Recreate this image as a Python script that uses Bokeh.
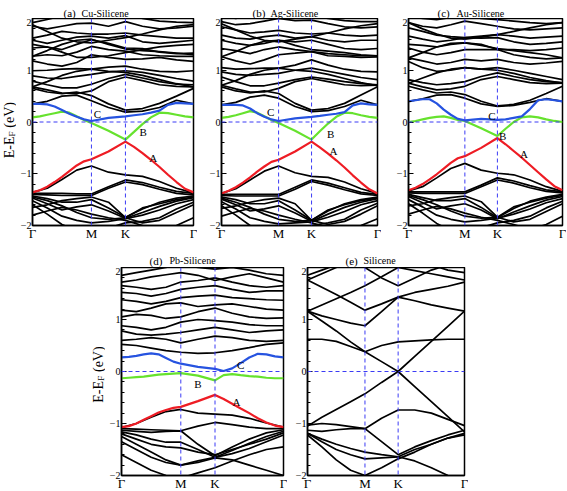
import numpy as np
from bokeh.plotting import figure
from bokeh.layouts import row, column
from bokeh.models import FixedTicker, SingleIntervalTicker, Span, Label, Spacer
from bokeh.core.properties import value
from bokeh.embed import file_html
from bokeh.resources import INLINE

# high-symmetry path  Γ - M - K - Γ
K_TICKS = [0.0, 1.0, 1.577, 2.732]
K_LABELS = ["Γ", "M", "K", "Γ"]
# sampling points for black bands (Γ, ¼, ½, ¾, M, mid, K, ¼, ½, ¾, Γ)
KB = [0.0, 0.25, 0.5, 0.75, 1.0, 1.289, 1.577, 1.866, 2.155, 2.443, 2.732]
# sampling points for coloured bands
KC = [0.0, 0.125, 0.25, 0.375, 0.5, 0.625, 0.75, 0.875, 1.0, 1.289, 1.577,
      1.722, 1.866, 2.010, 2.155, 2.299, 2.443, 2.588, 2.732]

# ---------------- (a) Cu-Silicene ----------------
a_black = [
    [0.35, 0.40, 0.50, 0.52, 0.41, 0.28, 0.19, 0.21, 0.28, 0.42, 0.35],
    [0.65, 0.58, 0.55, 0.58, 0.51, 0.35, 0.23, 0.26, 0.36, 0.50, 0.65],
    [0.68, 0.62, 0.56, 0.55, 0.60, 0.78, 0.87, 0.80, 0.72, 0.69, 0.68],
    [0.79, 0.72, 0.66, 0.66, 0.73, 0.84, 0.92, 0.85, 0.78, 0.73, 0.72],
    [0.68, 0.78, 0.90, 0.98, 1.02, 0.98, 0.96, 0.90, 0.82, 0.74, 0.68],
    [0.89, 0.85, 0.84, 0.88, 0.92, 0.97, 0.99, 0.96, 0.90, 0.84, 0.79],
    [0.99, 1.00, 1.02, 1.03, 1.02, 1.06, 1.08, 1.02, 0.98, 0.97, 0.99],
    [1.18, 1.12, 1.08, 1.15, 1.30, 1.25, 1.21, 1.22, 1.25, 1.20, 1.17],
    [1.27, 1.38, 1.50, 1.58, 1.60, 1.50, 1.41, 1.38, 1.36, 1.33, 1.30],
    [1.27, 1.30, 1.28, 1.35, 1.46, 1.40, 1.37, 1.30, 1.28, 1.27, 1.27],
    [1.50, 1.45, 1.35, 1.25, 1.25, 1.28, 1.34, 1.40, 1.45, 1.48, 1.50],
    [1.43, 1.45, 1.40, 1.50, 1.59, 1.52, 1.43, 1.42, 1.35, 1.32, 1.33],
    [1.58, 1.52, 1.58, 1.64, 1.66, 1.62, 1.67, 1.55, 1.52, 1.55, 1.58],
    [1.62, 1.68, 1.75, 1.72, 1.70, 1.70, 1.72, 1.68, 1.65, 1.62, 1.62],
    [1.88, 1.75, 1.62, 1.55, 1.53, 1.58, 1.63, 1.70, 1.78, 1.85, 1.88],
    [1.85, 1.80, 1.85, 1.90, 1.91, 1.85, 1.94, 1.85, 1.80, 1.82, 1.85],
    [1.92, 1.98, 2.05, 2.05, 2.02, 2.05, 2.10, 2.00, 1.95, 1.93, 1.92],
    [-1.36, -1.28, -1.11, -0.93, -0.85, -0.97, -1.02, -1.05, -1.15, -1.28, -1.37],
    [-1.38, -1.38, -1.38, -1.39, -1.39, -1.25, -1.12, -1.17, -1.26, -1.34, -1.38],
    [-1.40, -1.41, -1.42, -1.42, -1.42, -1.28, -1.16, -1.21, -1.30, -1.38, -1.41],
    [-1.43, -1.48, -1.55, -1.55, -1.50, -1.66, -1.84, -1.68, -1.55, -1.47, -1.43],
    [-1.45, -1.52, -1.62, -1.75, -1.85, -1.88, -1.85, -1.66, -1.58, -1.50, -1.45],
    [-1.47, -1.58, -1.70, -1.64, -1.60, -1.72, -1.86, -1.75, -1.63, -1.53, -1.46],
    [-1.52, -1.66, -1.82, -1.90, -1.95, -1.92, -1.87, -1.80, -1.70, -1.58, -1.50],
    [-1.60, -1.78, -1.98, -2.10, -2.10, -2.05, -1.95, -1.92, -1.85, -1.68, -1.55],
    [-1.65, -1.60, -1.52, -1.48, -1.45, -1.55, -1.85, -1.95, -1.90, -1.75, -1.60],
    [-1.80, -1.72, -1.65, -1.70, -1.78, -1.85, -1.90, -2.00, -2.10, -2.00, -1.85],
]
a_A = [-1.36, -1.32, -1.25, -1.16, -1.06, -0.95, -0.84, -0.76, -0.72, -0.57, -0.38,
       -0.48, -0.60, -0.73, -0.87, -1.02, -1.16, -1.29, -1.36]
a_B = [0.09, 0.11, 0.14, 0.17, 0.20, 0.18, 0.11, 0.04, -0.02, -0.17, -0.34,
       -0.19, -0.04, 0.09, 0.18, 0.17, 0.14, 0.11, 0.09]
a_C = [0.35, 0.35, 0.34, 0.30, 0.23, 0.16, 0.10, 0.05, 0.02, 0.08, 0.11,
       0.13, 0.15, 0.18, 0.22, 0.33, 0.37, 0.36, 0.35]

# ---------------- (b) Ag-Silicene ----------------
b_black = [
    [0.33, 0.38, 0.48, 0.52, 0.46, 0.30, 0.20, 0.22, 0.30, 0.42, 0.33],
    [0.68, 0.60, 0.56, 0.60, 0.55, 0.36, 0.23, 0.26, 0.36, 0.52, 0.68],
    [0.71, 0.64, 0.58, 0.58, 0.65, 0.78, 0.84, 0.78, 0.72, 0.70, 0.71],
    [0.87, 0.78, 0.70, 0.70, 0.75, 0.82, 0.87, 0.83, 0.78, 0.74, 0.72],
    [0.71, 0.80, 0.92, 1.00, 1.04, 1.00, 0.98, 0.92, 0.84, 0.76, 0.70],
    [0.97, 0.92, 0.90, 0.92, 0.94, 1.00, 1.04, 0.98, 0.92, 0.86, 0.82],
    [1.05, 1.02, 1.03, 1.04, 1.04, 1.10, 1.20, 1.10, 1.02, 0.98, 0.97],
    [1.26, 1.18, 1.12, 1.20, 1.30, 1.33, 1.36, 1.28, 1.27, 1.25, 1.26],
    [1.26, 1.36, 1.48, 1.56, 1.58, 1.48, 1.40, 1.37, 1.34, 1.30, 1.28],
    [1.42, 1.38, 1.32, 1.40, 1.45, 1.40, 1.36, 1.32, 1.30, 1.28, 1.28],
    [1.58, 1.52, 1.48, 1.52, 1.58, 1.55, 1.58, 1.50, 1.42, 1.40, 1.42],
    [1.68, 1.62, 1.60, 1.65, 1.68, 1.62, 1.65, 1.58, 1.55, 1.58, 1.58],
    [1.84, 1.78, 1.72, 1.74, 1.77, 1.72, 1.70, 1.72, 1.68, 1.66, 1.68],
    [1.90, 1.78, 1.66, 1.58, 1.55, 1.60, 1.65, 1.72, 1.80, 1.86, 1.90],
    [1.94, 1.88, 1.90, 1.95, 2.00, 1.96, 1.97, 1.90, 1.84, 1.82, 1.84],
    [2.05, 2.00, 2.05, 2.08, 2.10, 2.05, 2.05, 2.00, 1.96, 1.94, 1.94],
    [-1.38, -1.29, -1.12, -0.95, -0.85, -0.98, -1.05, -1.07, -1.16, -1.29, -1.38],
    [-1.40, -1.40, -1.40, -1.40, -1.40, -1.26, -1.12, -1.18, -1.27, -1.36, -1.40],
    [-1.42, -1.43, -1.43, -1.43, -1.43, -1.30, -1.15, -1.22, -1.31, -1.39, -1.42],
    [-1.45, -1.50, -1.58, -1.58, -1.52, -1.70, -1.90, -1.72, -1.58, -1.50, -1.45],
    [-1.47, -1.55, -1.65, -1.78, -1.88, -1.92, -1.90, -1.70, -1.60, -1.52, -1.47],
    [-1.49, -1.60, -1.72, -1.68, -1.62, -1.76, -1.92, -1.78, -1.65, -1.55, -1.48],
    [-1.54, -1.68, -1.85, -1.92, -1.97, -1.95, -1.93, -1.84, -1.73, -1.60, -1.52],
    [-1.62, -1.80, -2.00, -2.10, -2.10, -2.06, -2.00, -1.95, -1.88, -1.70, -1.57],
    [-1.67, -1.62, -1.55, -1.50, -1.47, -1.58, -1.90, -1.98, -1.92, -1.78, -1.62],
    [-1.82, -1.74, -1.67, -1.72, -1.80, -1.88, -1.95, -2.04, -2.10, -2.00, -1.87],
]
b_A = [-1.38, -1.33, -1.26, -1.17, -1.07, -0.96, -0.86, -0.77, -0.73, -0.57, -0.38,
       -0.49, -0.61, -0.74, -0.88, -1.03, -1.17, -1.30, -1.38]
b_B = [0.08, 0.10, 0.13, 0.17, 0.21, 0.18, 0.11, 0.04, -0.02, -0.17, -0.34,
       -0.18, -0.03, 0.10, 0.18, 0.17, 0.13, 0.10, 0.08]
b_C = [0.33, 0.33, 0.33, 0.32, 0.26, 0.17, 0.10, 0.05, 0.02, 0.07, 0.10,
       0.12, 0.14, 0.16, 0.19, 0.32, 0.36, 0.34, 0.33]

# ---------------- (c) Au-Silicene ----------------
c_black = [
    [0.40, 0.45, 0.52, 0.53, 0.46, 0.35, 0.30, 0.32, 0.38, 0.45, 0.40],
    [0.69, 0.62, 0.56, 0.58, 0.53, 0.40, 0.31, 0.34, 0.42, 0.55, 0.69],
    [0.75, 0.68, 0.62, 0.64, 0.69, 0.82, 0.88, 0.82, 0.76, 0.74, 0.75],
    [0.82, 0.76, 0.72, 0.74, 0.78, 0.88, 0.95, 0.88, 0.82, 0.78, 0.76],
    [0.75, 0.85, 0.95, 1.02, 1.05, 1.02, 1.00, 0.94, 0.86, 0.80, 0.75],
    [1.17, 1.05, 0.98, 1.00, 1.05, 1.02, 1.05, 1.00, 0.94, 0.88, 0.82],
    [1.24, 1.18, 1.12, 1.15, 1.21, 1.18, 1.21, 1.15, 1.12, 1.14, 1.17],
    [1.43, 1.35, 1.30, 1.34, 1.40, 1.40, 1.40, 1.30, 1.25, 1.22, 1.24],
    [1.24, 1.34, 1.45, 1.52, 1.53, 1.48, 1.42, 1.38, 1.34, 1.30, 1.24],
    [1.50, 1.48, 1.45, 1.50, 1.53, 1.50, 1.40, 1.40, 1.38, 1.40, 1.43],
    [1.66, 1.60, 1.55, 1.58, 1.63, 1.62, 1.63, 1.55, 1.50, 1.52, 1.55],
    [1.82, 1.75, 1.68, 1.65, 1.63, 1.66, 1.69, 1.66, 1.62, 1.64, 1.66],
    [1.92, 1.80, 1.70, 1.62, 1.60, 1.64, 1.69, 1.75, 1.82, 1.88, 1.92],
    [1.92, 1.85, 1.82, 1.88, 1.95, 1.90, 1.85, 1.80, 1.78, 1.80, 1.82],
    [2.05, 2.00, 1.98, 2.02, 2.05, 2.00, 1.98, 1.95, 1.92, 1.90, 1.92],
    [-1.33, -1.25, -1.08, -0.90, -0.80, -0.93, -0.99, -1.02, -1.12, -1.25, -1.34],
    [-1.35, -1.35, -1.35, -1.35, -1.35, -1.22, -1.08, -1.14, -1.23, -1.31, -1.35],
    [-1.37, -1.38, -1.38, -1.38, -1.38, -1.25, -1.12, -1.18, -1.27, -1.34, -1.37],
    [-1.40, -1.46, -1.52, -1.52, -1.48, -1.65, -1.85, -1.67, -1.53, -1.45, -1.40],
    [-1.42, -1.50, -1.60, -1.72, -1.82, -1.86, -1.84, -1.64, -1.55, -1.47, -1.42],
    [-1.44, -1.56, -1.68, -1.62, -1.58, -1.70, -1.87, -1.74, -1.62, -1.51, -1.44],
    [-1.50, -1.64, -1.80, -1.88, -1.93, -1.90, -1.86, -1.78, -1.68, -1.56, -1.48],
    [-1.58, -1.76, -1.96, -2.10, -2.10, -2.04, -1.95, -1.90, -1.82, -1.66, -1.53],
    [-1.62, -1.58, -1.50, -1.46, -1.43, -1.54, -1.84, -1.93, -1.88, -1.73, -1.58],
    [-1.78, -1.70, -1.63, -1.68, -1.76, -1.84, -1.90, -1.98, -2.08, -1.98, -1.82],
]
c_A = [-1.32, -1.27, -1.20, -1.11, -1.01, -0.90, -0.79, -0.70, -0.66, -0.50, -0.31,
       -0.43, -0.56, -0.69, -0.83, -0.97, -1.11, -1.24, -1.32]
c_B = [0.00, 0.02, 0.05, 0.08, 0.10, 0.11, 0.08, 0.04, 0.02, -0.12, -0.27,
       -0.13, 0.00, 0.09, 0.11, 0.09, 0.05, 0.02, 0.00]
c_C = [0.40, 0.42, 0.44, 0.44, 0.36, 0.24, 0.14, 0.06, 0.03, 0.06, 0.04,
       0.05, 0.08, 0.11, 0.25, 0.42, 0.44, 0.42, 0.40]

# ---------------- (d) Pb-Silicene ----------------
d_black = [
    [0.52, 0.50, 0.45, 0.40, 0.37, 0.35, 0.36, 0.40, 0.46, 0.52, 0.55],
    [0.60, 0.62, 0.65, 0.62, 0.55, 0.62, 0.68, 0.65, 0.60, 0.58, 0.60],
    [0.78, 0.72, 0.70, 0.72, 0.75, 0.80, 0.85, 0.80, 0.75, 0.78, 0.80],
    [0.88, 0.85, 0.80, 0.85, 0.95, 1.00, 0.98, 0.95, 0.90, 0.88, 0.88],
    [1.05, 1.10, 1.08, 1.02, 1.05, 1.15, 1.22, 1.12, 1.05, 1.02, 1.03],
    [1.18, 1.15, 1.22, 1.30, 1.32, 1.25, 1.28, 1.30, 1.25, 1.20, 1.18],
    [1.38, 1.35, 1.30, 1.35, 1.42, 1.45, 1.47, 1.42, 1.40, 1.38, 1.37],
    [1.52, 1.50, 1.45, 1.50, 1.58, 1.62, 1.65, 1.58, 1.52, 1.55, 1.55],
    [1.65, 1.62, 1.58, 1.62, 1.72, 1.75, 1.80, 1.72, 1.65, 1.62, 1.65],
    [1.72, 1.76, 1.82, 1.86, 1.90, 1.85, 1.75, 1.82, 1.88, 1.80, 1.72],
    [1.85, 1.90, 1.95, 2.00, 2.05, 2.00, 1.97, 2.00, 1.95, 1.88, 1.85],
    [-1.08, -1.00, -0.88, -0.77, -0.73, -0.80, -0.82, -0.84, -0.90, -0.99, -1.07],
    [-1.10, -1.11, -1.12, -1.13, -1.14, -1.05, -0.98, -1.02, -1.07, -1.10, -1.10],
    [-1.13, -1.15, -1.17, -1.15, -1.14, -1.40, -1.62, -1.45, -1.30, -1.18, -1.12],
    [-1.16, -1.22, -1.30, -1.36, -1.36, -1.50, -1.65, -1.52, -1.38, -1.25, -1.15],
    [-1.20, -1.30, -1.40, -1.45, -1.47, -1.55, -1.60, -1.50, -1.40, -1.30, -1.18],
    [-1.25, -1.40, -1.55, -1.70, -1.80, -1.72, -1.65, -1.58, -1.48, -1.35, -1.22],
    [-1.35, -1.50, -1.65, -1.75, -1.80, -1.75, -1.66, -1.70, -1.80, -1.90, -2.00],
    [-1.60, -1.75, -1.90, -2.00, -2.05, -1.95, -1.85, -1.72, -1.60, -1.50, -1.45],
]
d_A = [-1.07, -1.05, -1.00, -0.93, -0.86, -0.79, -0.74, -0.70, -0.68, -0.57, -0.45,
       -0.53, -0.62, -0.71, -0.80, -0.90, -0.98, -1.04, -1.07]
d_B = [-0.13, -0.12, -0.11, -0.10, -0.08, -0.06, -0.05, -0.04, -0.03, -0.08, -0.17,
       -0.07, -0.05, -0.07, -0.09, -0.10, -0.12, -0.13, -0.13]
d_C = [0.27, 0.28, 0.30, 0.33, 0.35, 0.33, 0.26, 0.19, 0.15, 0.09, 0.05,
       0.01, 0.06, 0.16, 0.27, 0.34, 0.33, 0.29, 0.27]

# ---------------- (e) Silicene ----------------
e_black = [
    [-1.05, -0.88, -0.73, -0.58, -0.43, -0.21, 0.00, -0.29, -0.58, -0.87, -1.16],
    [1.16, 0.97, 0.78, 0.57, 0.38, 0.19, 0.00, 0.29, 0.58, 0.87, 1.16],
    [0.62, 0.62, 0.58, 0.48, 0.38, 0.50, 0.57, 0.59, 0.61, 0.62, 0.62],
    [1.16, 1.07, 1.00, 0.93, 0.88, 1.15, 1.43, 1.52, 1.58, 1.64, 1.72],
    [1.76, 1.62, 1.48, 1.33, 1.18, 1.30, 1.43, 1.36, 1.28, 1.22, 1.16],
    [1.16, 1.28, 1.40, 1.52, 1.65, 1.82, 2.00, 1.94, 1.88, 1.82, 1.76],
    [1.76, 1.88, 2.00, 2.10, 2.10, 2.10, 2.10, 2.10, 2.05, 1.95, 1.90],
    [1.85, 1.95, 2.05, 2.10, 2.00, 1.80, 1.65, 1.80, 1.95, 2.05, 2.10],
    [-1.03, -1.00, -1.02, -1.06, -1.10, -0.90, -0.74, -0.74, -0.80, -0.92, -1.04],
    [-1.13, -1.15, -1.12, -1.10, -1.10, -1.35, -1.60, -1.45, -1.33, -1.22, -1.13],
    [-1.19, -1.30, -1.40, -1.48, -1.55, -1.60, -1.64, -1.50, -1.40, -1.28, -1.19],
    [-1.19, -1.35, -1.50, -1.60, -1.68, -1.66, -1.64, -1.72, -1.85, -2.00, -2.10],
    [-1.22, -1.45, -1.70, -1.90, -2.00, -1.85, -1.68, -1.55, -1.40, -1.28, -1.22],
]

# panel titles: (tag, name)
TITLES_TOP = [("(a)", "Cu-Silicene"), ("(b)", "Ag-Silicene"), ("(c)", "Au-Silicene")]
TITLES_BOTTOM = [("(d)", "Pb-Silicene"), ("(e)", "Silicene")]

FONT = "Liberation Serif"
DASH_COLOR = "#3b3bf5"
RED, GREEN, BLUE = "#ee1c24", "#66e22e", "#2653e0"
XMAX = 2.732


def bare(w, h, xr, yr, bt=0, bb=0):
    f = figure(frame_width=w, frame_height=h, x_range=xr, y_range=yr,
               min_border_left=0, min_border_right=0, min_border_top=bt,
               min_border_bottom=bb, x_axis_type=None, y_axis_type=None,
               output_backend="svg", toolbar_location=None)
    f.xgrid.visible = False
    f.ygrid.visible = False
    f.outline_line_color = None
    return f


def header(width, height, items, base_y):
    h = bare(width, height, (0, width), (0, height))
    for tag, name, x_tag, x_name in items:
        h.text(x=[x_tag], y=[base_y], text=[tag], text_font=value(FONT),
               text_font_size=value("11px"), text_baseline=value("alphabetic"),
               text_align=value("left"), text_color="black")
        h.text(x=[x_name], y=[base_y], text=[name], text_font=value(FONT),
               text_font_size=value("10px"), text_baseline=value("alphabetic"),
               text_align=value("left"), text_color="black")
    return h


def ylabel_fig(width, fh, bb, xc, y0):
    f = bare(width, fh, (0, width), (-2, 2), bt=0, bb=bb)
    ang = np.pi / 2
    f.text(x=[xc], y=[y0], text=["E-E"], angle=ang, text_font=value(FONT),
           text_font_size=value("14px"), text_align=value("left"),
           text_baseline=value("middle"), text_color="black")
    f.text(x=[xc + 3], y=[y0 + 0.42], text=["F"], angle=ang, text_font=value(FONT),
           text_font_size=value("9px"), text_align=value("left"),
           text_baseline=value("middle"), text_color="black")
    f.text(x=[xc], y=[y0 + 0.59], text=["(eV)"], angle=ang, text_font=value(FONT),
           text_font_size=value("14px"), text_align=value("left"),
           text_baseline=value("middle"), text_color="black")
    return f


def make_panel(fw, fh, bl, br, bb, black, A, B, C, letters):
    p = figure(frame_width=fw, frame_height=fh, x_range=(0, XMAX), y_range=(-2, 2),
               min_border_left=bl, min_border_right=br, min_border_top=0,
               min_border_bottom=bb, output_backend="svg", toolbar_location=None)
    p.xgrid.visible = False
    p.ygrid.visible = False
    p.outline_line_color = "black"
    p.outline_line_width = 1.5
    p.outline_line_alpha = 1.0

    xa = p.xaxis[0]
    xa.ticker = FixedTicker(ticks=K_TICKS)
    xa.major_label_overrides = {t: l for t, l in zip(K_TICKS, K_LABELS)}
    xa.major_tick_in = 0
    xa.major_tick_out = 0
    xa.minor_tick_in = 0
    xa.minor_tick_out = 0
    xa.major_label_standoff = 0
    xa.major_label_text_font = FONT
    xa.major_label_text_font_size = "13px"
    xa.major_label_text_color = "black"
    xa.axis_line_width = 1.5

    ya = p.yaxis[0]
    ya.ticker = SingleIntervalTicker(interval=1, num_minor_ticks=5)
    ya.major_tick_in = 5
    ya.major_tick_out = 0
    ya.minor_tick_in = 3
    ya.minor_tick_out = 0
    ya.major_label_standoff = 1
    ya.major_label_text_font = FONT
    ya.major_label_text_font_size = "10px"
    ya.major_label_text_color = "black"
    ya.axis_line_width = 1.5

    p.multi_line(xs=[KB] * len(black), ys=black, line_color="black", line_width=1.7)
    if A is not None:
        p.line(KC, A, line_color=RED, line_width=2.2)
        p.line(KC, B, line_color=GREEN, line_width=2.2)
        p.line(KC, C, line_color=BLUE, line_width=2.2)

    for loc in (1.0, 1.577):
        p.add_layout(Span(location=loc, dimension="height", line_color=DASH_COLOR,
                          line_dash="4 3", line_width=1))
    p.add_layout(Span(location=0.0, dimension="width", line_color=DASH_COLOR,
                      line_dash="4 3", line_width=1))

    for txt, kx, ey in letters:
        p.add_layout(Label(x=kx, y=ey, text=txt, text_font=FONT, text_font_size="11px",
                           text_align="center", text_baseline="middle", text_color="black"))
    return p


# top row
head_top = header(566, 18, [(TITLES_TOP[0][0], TITLES_TOP[0][1], 63, 81),
                            (TITLES_TOP[1][0], TITLES_TOP[1][1], 252, 270),
                            (TITLES_TOP[2][0], TITLES_TOP[2][1], 437, 456)], 5.3)
ya_fig = ylabel_fig(16, 207, 16, 8.5, -0.70)
pa = make_panel(161, 207, 16, 4, 16, a_black, a_A, a_B, a_C,
                [("C", 1.10, 0.16), ("B", 1.88, -0.20), ("A", 2.05, -0.70)])
pb = make_panel(156, 207, 24, 4, 16, b_black, b_A, b_B, b_C,
                [("C", 0.86, 0.20), ("B", 1.91, -0.23), ("A", 1.96, -0.56)])
pc = make_panel(154, 207, 27, 4, 16, c_black, c_A, c_B, c_C,
                [("C", 1.48, 0.12), ("B", 1.67, -0.27), ("A", 2.05, -0.62)])

# bottom row
head_bot = header(566, 24, [(TITLES_BOTTOM[0][0], TITLES_BOTTOM[0][1], 149, 169),
                            (TITLES_BOTTOM[1][0], TITLES_BOTTOM[1][1], 345, 363)], 7)
yd_fig = ylabel_fig(16, 208, 17, 8.5, -0.60)
pd = make_panel(162, 208, 16, 4, 17, d_black, d_A, d_B, d_C,
                [("C", 2.01, 0.12), ("B", 1.29, -0.24), ("A", 1.94, -0.59)])
pe = make_panel(157, 208, 20, 4, 17, e_black, None, None, None, [])

layout = column(head_top,
                row(ya_fig, pa, pb, pc),
                head_bot,
                row(Spacer(width=89, height=10), yd_fig, pd, pe))

html = file_html(layout, INLINE)
open("out.html", "w").write(html)
